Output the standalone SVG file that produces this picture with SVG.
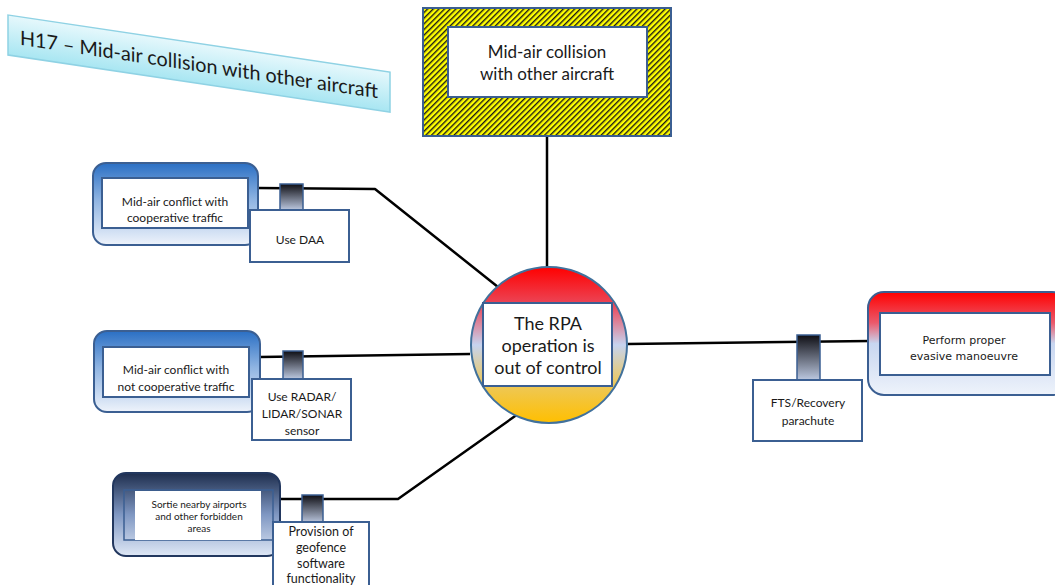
<svg xmlns="http://www.w3.org/2000/svg" width="1055" height="585" viewBox="0 0 1055 585">
  <defs>
    <linearGradient id="gTitle" x1="0" y1="0" x2="0" y2="1">
      <stop offset="0" stop-color="#e6f8fc"/>
      <stop offset="1" stop-color="#a8e6f2"/>
    </linearGradient>
    <linearGradient id="gBlue" x1="0" y1="0" x2="0" y2="1">
      <stop offset="0" stop-color="#2a6fc4"/>
      <stop offset="0.45" stop-color="#8fb4e2"/>
      <stop offset="1" stop-color="#eef3fb"/>
    </linearGradient>
    <linearGradient id="gNavy" x1="0" y1="0" x2="0" y2="1">
      <stop offset="0" stop-color="#1e2e4e"/>
      <stop offset="0.5" stop-color="#7f97c2"/>
      <stop offset="1" stop-color="#dfe8f6"/>
    </linearGradient>
    <linearGradient id="gRed" x1="0" y1="0" x2="0" y2="1">
      <stop offset="0" stop-color="#ff0000"/>
      <stop offset="0.3" stop-color="#ea5a6c"/>
      <stop offset="0.5" stop-color="#c8d6f0"/>
      <stop offset="1" stop-color="#eef3fb"/>
    </linearGradient>
    <linearGradient id="gCore" x1="0" y1="0" x2="0" y2="1">
      <stop offset="0" stop-color="#ff0000"/>
      <stop offset="0.25" stop-color="#ea4a5c"/>
      <stop offset="0.5" stop-color="#c6d3ef"/>
      <stop offset="0.75" stop-color="#edc85a"/>
      <stop offset="1" stop-color="#ffbf00"/>
    </linearGradient>
    <linearGradient id="gBarrier" x1="0" y1="0" x2="0" y2="1">
      <stop offset="0" stop-color="#0e0e14"/>
      <stop offset="1" stop-color="#bcc8e0"/>
    </linearGradient>
    <pattern id="hatch" width="4" height="4" patternUnits="userSpaceOnUse" patternTransform="rotate(45)">
      <rect width="4" height="4" fill="#ffff00"/>
      <rect width="1.4" height="4" fill="#1a1a1a"/>
    </pattern>
  </defs>
  <style>
    .txt { font-family: "Lato", "Liberation Sans", sans-serif; fill: #1a1a1a; text-anchor: middle; }
    .box { fill: #ffffff; stroke: #3b5f92; stroke-width: 2; }
    .frame { stroke: #3b5f92; stroke-width: 2; }
    .barrier { fill: url(#gBarrier); stroke: #3b5f92; stroke-width: 1.5; }
    .wire { fill: none; stroke: #000; stroke-width: 2.5; stroke-linejoin: round; }
  </style>
  <rect width="1055" height="585" fill="#ffffff"/>

  <!-- connectors -->
  <g id="connectors">
    <line class="wire" x1="547" y1="136" x2="547" y2="268"/>
    <polyline class="wire" points="258,188 375,189 498,287"/>
    <line class="wire" x1="260" y1="357" x2="470" y2="354"/>
    <polyline class="wire" points="280,499 398,499 518,414"/>
    <line class="wire" x1="628" y1="344" x2="870" y2="341"/>
  </g>

  <!-- title banner -->
  <g id="title" transform="translate(8,15) skewY(8.5)">
    <rect x="0" y="0" width="382" height="40" fill="url(#gTitle)" stroke="#8fd2e4" stroke-width="1.5"/>
    <text class="txt" x="191" y="28" font-size="20" textLength="358" lengthAdjust="spacingAndGlyphs">H17 – Mid-air collision with other aircraft</text>
  </g>

  <!-- top event -->
  <g id="top-event">
    <rect x="423" y="8" width="248" height="128" fill="url(#hatch)" class="frame"/>
    <rect class="box" x="448" y="27" width="199" height="70"/>
    <text class="txt" x="547" y="58" font-size="17">Mid-air collision</text>
    <text class="txt" x="547" y="80" font-size="17">with other aircraft</text>
  </g>

  <!-- central hazard -->
  <g id="hazard">
    <circle cx="549" cy="345" r="78" fill="url(#gCore)" stroke="#41719c" stroke-width="2"/>
    <rect class="box" x="483" y="303" width="129" height="83"/>
    <text class="txt" x="548" y="330" font-size="18">The RPA</text>
    <text class="txt" x="548" y="352" font-size="18">operation is</text>
    <text class="txt" x="548" y="374" font-size="18">out of control</text>
  </g>

  <!-- threat 1 -->
  <g id="threat-cooperative">
    <rect x="93" y="163" width="165" height="82" rx="13" fill="url(#gBlue)" class="frame"/>
    <rect class="box" x="102" y="178" width="146" height="50"/>
    <text class="txt" x="175" y="206" font-size="12">Mid-air conflict with</text>
    <text class="txt" x="175" y="222" font-size="12">cooperative traffic</text>
  </g>
  <g id="barrier-daa">
    <rect class="barrier" x="280" y="184" width="23" height="26"/>
    <rect class="box" x="250" y="210" width="99" height="52"/>
    <text class="txt" x="300" y="244" font-size="12">Use DAA</text>
  </g>

  <!-- threat 2 -->
  <g id="threat-noncooperative">
    <rect x="94" y="331" width="166" height="81" rx="13" fill="url(#gBlue)" class="frame"/>
    <rect class="box" x="103" y="347" width="146" height="50"/>
    <text class="txt" x="176" y="374" font-size="12">Mid-air conflict with</text>
    <text class="txt" x="176" y="391" font-size="12">not cooperative traffic</text>
  </g>
  <g id="barrier-sensor">
    <rect class="barrier" x="283" y="351" width="20" height="28"/>
    <rect class="box" x="252" y="379" width="99" height="61"/>
    <text class="txt" x="302" y="401" font-size="12">Use RADAR/</text>
    <text class="txt" x="302" y="418" font-size="12">LIDAR/SONAR</text>
    <text class="txt" x="302" y="435" font-size="12">sensor</text>
  </g>

  <!-- threat 3 -->
  <g id="threat-airports">
    <rect x="113" y="473" width="167" height="83" rx="13" fill="url(#gNavy)" stroke="#22375e" stroke-width="2"/>
    <rect x="124" y="490" width="149" height="50" fill="none" stroke="#3b5f92" stroke-width="1.5"/>
    <rect x="135" y="491" width="126" height="49" fill="#ffffff"/>
    <text class="txt" x="199" y="508" font-size="10">Sortie nearby airports</text>
    <text class="txt" x="199" y="520" font-size="10">and other forbidden</text>
    <text class="txt" x="199" y="532" font-size="10">areas</text>
  </g>
  <g id="barrier-geofence">
    <rect class="barrier" x="302" y="495" width="21" height="28"/>
    <rect class="box" x="273" y="522" width="96" height="66"/>
    <text class="txt" x="321" y="536" font-size="12.5">Provision of</text>
    <text class="txt" x="321" y="552" font-size="12.5">geofence</text>
    <text class="txt" x="321" y="568" font-size="12.5">software</text>
    <text class="txt" x="321" y="583" font-size="12.5">functionality</text>
  </g>

  <!-- recovery side -->
  <g id="barrier-fts">
    <rect class="barrier" x="797" y="335" width="23" height="45"/>
    <rect class="box" x="753" y="380" width="109" height="61"/>
    <text class="txt" x="808" y="407" font-size="12">FTS/Recovery</text>
    <text class="txt" x="808" y="425" font-size="12">parachute</text>
  </g>
  <g id="consequence-evasive">
    <rect x="868" y="292" width="200" height="103" rx="16" fill="url(#gRed)" class="frame"/>
    <rect class="box" x="880" y="313" width="170" height="62"/>
    <text x="964" y="344" font-size="11" text-anchor="middle" fill="#1a1a1a" font-family="DejaVu Sans, Verdana, sans-serif">Perform proper</text>
    <text x="964" y="360" font-size="11" text-anchor="middle" fill="#1a1a1a" font-family="DejaVu Sans, Verdana, sans-serif">evasive manoeuvre</text>
  </g>
</svg>
